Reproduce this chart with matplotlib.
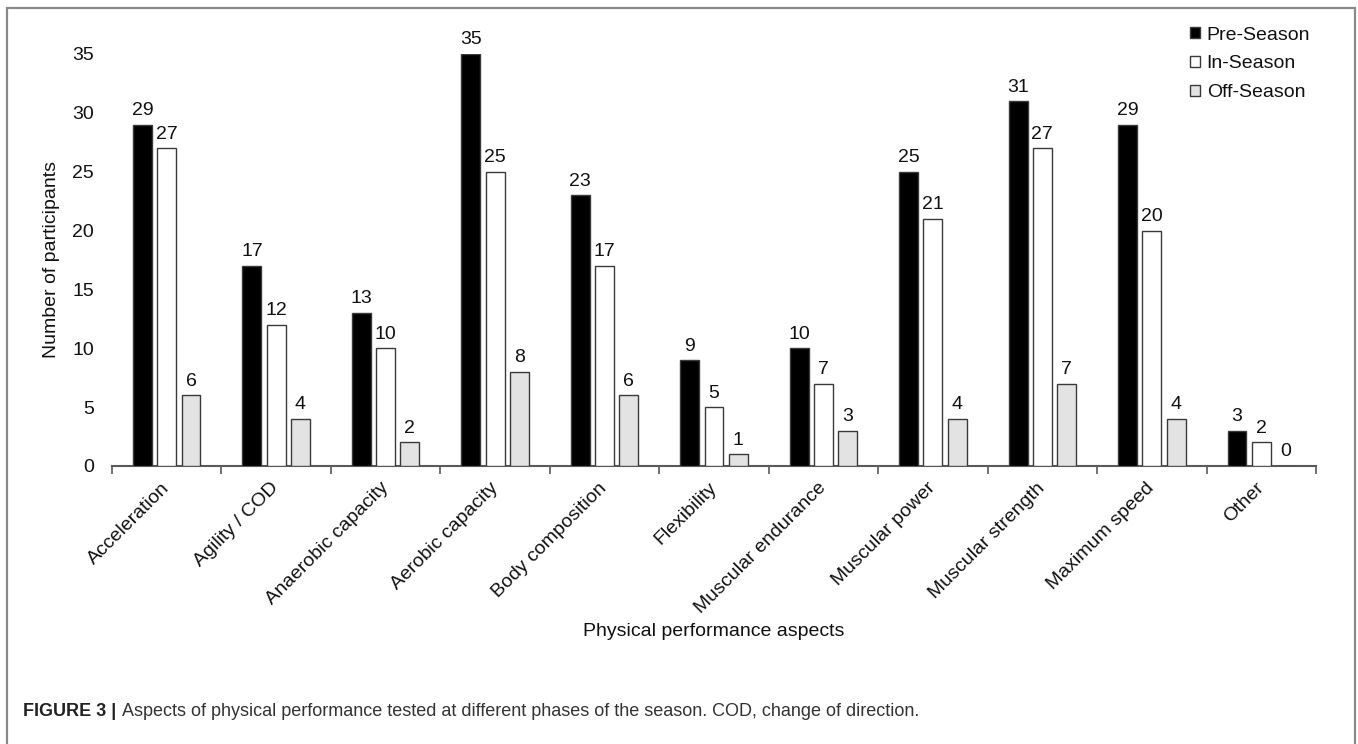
import matplotlib
matplotlib.use("Agg")
import matplotlib.pyplot as plt
from matplotlib.patches import Rectangle
import numpy as np

plt.rcParams['font.family'] = ['Liberation Sans', 'DejaVu Sans']

categories = ["Acceleration", "Agility / COD", "Anaerobic capacity", "Aerobic capacity",
              "Body composition", "Flexibility", "Muscular endurance", "Muscular power",
              "Muscular strength", "Maximum speed", "Other"]
pre_season = [29, 17, 13, 35, 23, 9, 10, 25, 31, 29, 3]
in_season = [27, 12, 10, 25, 17, 5, 7, 21, 27, 20, 2]
off_season = [6, 4, 2, 8, 6, 1, 3, 4, 7, 4, 0]
series_names = ["Pre-Season", "In-Season", "Off-Season"]
y_ticks = [0, 5, 10, 15, 20, 25, 30, 35]

W, H = 1358, 744
fig = plt.figure(figsize=(W / 100, H / 100), dpi=100)
ax = fig.add_axes([112 / W, 1 - 466 / H, (1316 - 112) / W, (466 - 54) / H])

FS = 14
x = np.arange(len(categories))
width = 0.173
offset = 0.222
colors = ["#000000", "#ffffff", "#e3e3e3"]
edge = "#3a3a3a"

for i, (vals, col, name) in enumerate(zip([pre_season, in_season, off_season], colors, series_names)):
    pos = x + (i - 1) * offset
    bars = ax.bar(pos, vals, width=width, color=col, edgecolor=edge, linewidth=1.0, label=name, zorder=3)
    for b, v in zip(bars, vals):
        ax.annotate(str(v), (b.get_x() + b.get_width() / 2, v), xytext=(0, 4),
                    textcoords="offset points", ha="center", va="bottom", fontsize=FS, color="#111111")

ax.set_xlim(-0.5, len(categories) - 0.5)
ax.set_ylim(0, 35)
ax.set_yticks(y_ticks)
ax.tick_params(axis="y", length=0, pad=13, labelsize=FS, labelcolor="#111111")

# group boundary ticks below the axis, labels centred under each group
ax.set_xticks(np.arange(len(categories) + 1) - 0.5)
ax.set_xticklabels([])
ax.tick_params(axis="x", which="major", length=6, width=1.2, color="#595959")
ax.set_xticks(x, minor=True)
ax.set_xticklabels(categories, minor=True, rotation=45, ha="right", va="center",
                   rotation_mode="anchor", fontsize=FS, color="#111111")
ax.tick_params(axis="x", which="minor", length=0, pad=14)

for s in ["top", "right", "left"]:
    ax.spines[s].set_visible(False)
ax.spines["bottom"].set_color("#595959")
ax.spines["bottom"].set_linewidth(1.5)

ax.set_ylabel("Number of participants", fontsize=FS, color="#111111", labelpad=9)
fig.text(714 / W, 1 - 632 / H, "Physical performance aspects", ha="center", va="center",
         fontsize=FS, color="#111111")

leg = ax.legend(loc="upper right", bbox_to_anchor=(1318 / W, 1 - 19 / H), bbox_transform=fig.transFigure,
                frameon=False, fontsize=FS, handlelength=0.5, handleheight=0.5, handletextpad=0.35,
                labelspacing=0.6, borderaxespad=0)
for t in leg.get_texts():
    t.set_color("#111111")

# outer frame around chart and caption
fig.patches.append(Rectangle((7 / W, -0.01), (1355 - 7) / W, 1 - 8 / H + 0.01,
                             transform=fig.transFigure, fill=False, edgecolor="#8a8a8a", linewidth=1.6))

cap_y = 1 - 712 / H
head = fig.text(23 / W, cap_y, "FIGURE 3 |", ha="left", va="center", fontsize=13,
                fontweight="bold", color="#222222")
renderer = fig.canvas.get_renderer()
hx = head.get_window_extent(renderer).x1
fig.text((hx + 6) / W, cap_y,
         "Aspects of physical performance tested at different phases of the season. COD, change of direction.",
         ha="left", va="center", fontsize=13, color="#333333")

fig.savefig("out.png", dpi=100)
